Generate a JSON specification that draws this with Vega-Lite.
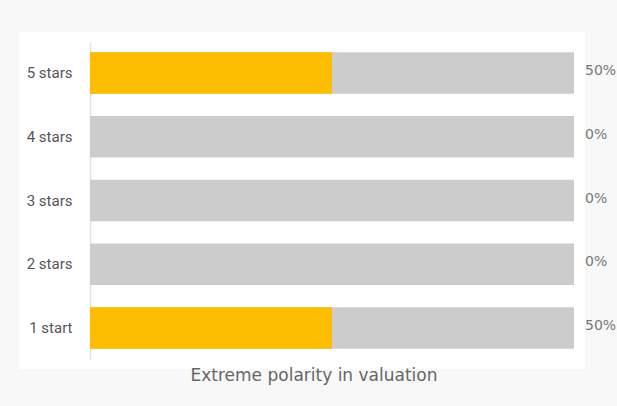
{
  "$schema": "https://vega.github.io/schema/vega-lite/v6.json",
  "width": 546,
  "height": 317,
  "autosize": {"type": "none"},
  "padding": {"left": 29, "top": 42, "right": 42, "bottom": 47},
  "background": "#f8f8f8",
  "data": {
    "values": [
      {"rating": "5 stars", "share": 50, "total": 100, "label": "50%"},
      {"rating": "4 stars", "share": 0, "total": 100, "label": "0%"},
      {"rating": "3 stars", "share": 0, "total": 100, "label": "0%"},
      {"rating": "2 stars", "share": 0, "total": 100, "label": "0%"},
      {"rating": "1 start", "share": 50, "total": 100, "label": "50%"}
    ]
  },
  "title": {
    "text": "Extreme polarity in valuation",
    "orient": "bottom",
    "font": "DejaVu Sans",
    "fontSize": 17,
    "fontWeight": "normal",
    "color": "#666666",
    "offset": 9,
    "dx": 12
  },
  "encoding": {
    "y": {
      "field": "rating",
      "type": "nominal",
      "sort": null,
      "scale": {"paddingInner": 0.35, "paddingOuter": 0.16},
      "axis": {
        "title": null,
        "orient": "left",
        "offset": -61,
        "ticks": false,
        "labelPadding": 18,
        "domainColor": "#e2e2e2",
        "domainWidth": 1.5,
        "labelFont": "Roboto",
        "labelFontSize": 15,
        "labelColor": "#555555",
        "grid": false
      }
    }
  },
  "layer": [
    {
      "mark": {"type": "bar", "color": "#cccccc"},
      "encoding": {
        "x": {"field": "total", "type": "quantitative", "scale": {"domain": [0, 100], "range": [61, 545]}, "axis": null}
      }
    },
    {
      "mark": {"type": "bar", "color": "#fdbd00"},
      "encoding": {
        "x": {"field": "share", "type": "quantitative"}
      }
    },
    {
      "mark": {"type": "text", "align": "left", "baseline": "middle", "dx": 11, "dy": -2, "font": "DejaVu Sans", "fontSize": 14, "color": "#777777"},
      "encoding": {
        "x": {"field": "total", "type": "quantitative"},
        "text": {"field": "label"}
      }
    }
  ],
  "config": {
    "view": {"fill": "white", "stroke": "white", "strokeWidth": 20, "cornerRadius": 0}
  }
}
